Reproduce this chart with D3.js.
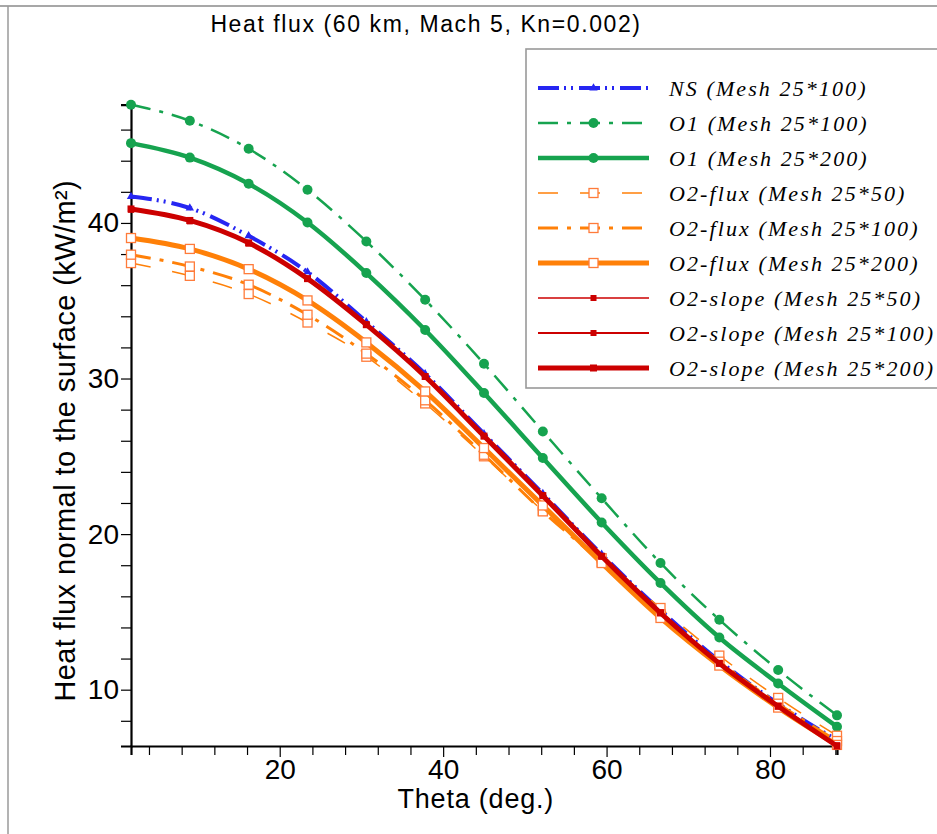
<!DOCTYPE html>
<html>
<head>
<meta charset="utf-8">
<script src="https://cdn.jsdelivr.net/npm/d3@7"></script>
<style>
  body { margin: 0; background: #fff; }
  svg { display: block; }
</style>
</head>
<body>
<div id="chart"></div>
<script>
// Data (marker positions, every 7.2 deg)
const theta = [1.8, 9, 16.2, 23.4, 30.6, 37.8, 45, 52.2, 59.4, 66.6, 73.8, 81, 88.2]

const ns100 = [41.7, 40.96, 39.17, 36.85, 33.65, 30.3, 26.45, 22.6, 18.7, 15.1, 11.85, 9.1, 6.75]
const o1Mesh100 = [47.6, 46.57, 44.77, 42.13, 38.81, 35.06, 30.95, 26.6, 22.3, 18.14, 14.5, 11.27, 8.35]
const o1Mesh200 = [45.13, 44.2, 42.52, 40.03, 36.78, 33.12, 29.07, 24.89, 20.75, 16.86, 13.35, 10.4, 7.62]
const fluxMesh50 = [37.42, 36.6, 35.43, 33.6, 31.4, 28.4, 25.0, 21.5, 18.45, 15.25, 12.19, 9.47, 7.04]
const fluxMesh100 = [37.96, 37.2, 36.03, 34.1, 31.6, 28.6, 25.1, 21.46, 18.2, 14.85, 11.8, 9.1, 6.7]
const fluxMesh200 = [39.03, 38.33, 37.03, 35.02, 32.32, 29.17, 25.53, 21.84, 18.14, 14.61, 11.55, 8.85, 6.45]
const slopeMesh50 = [40.85, 40.1, 38.68, 36.4, 33.45, 30.12, 26.3, 22.48, 18.6, 14.97, 11.72, 8.96, 6.42]
const slopeMesh100 = [40.88, 40.13, 38.7, 36.41, 33.46, 30.13, 26.3, 22.47, 18.58, 14.95, 11.7, 8.94, 6.4]
const slopeMesh200 = [40.9, 40.16, 38.72, 36.42, 33.46, 30.13, 26.3, 22.47, 18.57, 14.93, 11.69, 8.93, 6.38]

const seriesNames = [
    "NS (Mesh 25*100)",
    "O1 (Mesh 25*100)",
    "O1 (Mesh 25*200)",
    "O2-flux (Mesh 25*50)",
    "O2-flux (Mesh 25*100)",
    "O2-flux (Mesh 25*200)",
    "O2-slope (Mesh 25*50)",
    "O2-slope (Mesh 25*100)",
    "O2-slope (Mesh 25*200)",
]
const seriesValues = [ns100, o1Mesh100, o1Mesh200, fluxMesh50, fluxMesh100, fluxMesh200,
    slopeMesh50, slopeMesh100, slopeMesh200]

const xTicks = [20, 40, 60, 80]
const yTicks = [10, 20, 30, 40]

const titleText = "Heat flux (60 km, Mach 5, Kn=0.002)"
const xLabel = "Theta (deg.)"
const yLabel = "Heat flux normal to the surface (kW/m²)"

// styles per series
const blue = "#2626f2", green = "#16a34f", orange = "#ff8008", red = "#cc0000"
const styles = [
    { color: blue, width: 4, dash: "21,5,2,5,2,6", marker: "tri" },
    { color: green, width: 2.5, dash: "20,9,4,9", marker: "circle" },
    { color: green, width: 4.5, dash: null, marker: "circle" },
    { color: orange, width: 1.5, dash: "20,22", marker: "open" },
    { color: orange, width: 3, dash: "20,9,4,9", marker: "open" },
    { color: orange, width: 5, dash: null, marker: "open" },
    { color: red, width: 1.5, dash: null, marker: "square" },
    { color: red, width: 2, dash: null, marker: "square" },
    { color: red, width: 5, dash: null, marker: "square" },
]

const series = seriesNames.map((name, i) => ({
    name,
    style: styles[i],
    points: theta.map((t, j) => ({ t, v: seriesValues[i][j] })),
}))

// 1. dimensions
const dimensions = {
    width: 937,
    height: 834,
    margin: { top: 104.7, right: 100, bottom: 88, left: 131 },
}
dimensions.boundedWidth = dimensions.width - dimensions.margin.left - dimensions.margin.right
dimensions.boundedHeight = dimensions.height - dimensions.margin.top - dimensions.margin.bottom

// 2. canvas
const wrapper = d3.select("#chart")
    .append("svg")
    .attr("width", dimensions.width)
    .attr("height", dimensions.height)

// frame lines of the original figure
wrapper.append("line")
    .attr("x1", 0).attr("x2", dimensions.width)
    .attr("y1", 6).attr("y2", 6)
    .attr("stroke", "#8a8a8a").attr("stroke-width", 1.5)
wrapper.append("line")
    .attr("x1", 8).attr("x2", 8)
    .attr("y1", 6).attr("y2", dimensions.height)
    .attr("stroke", "#9a9a9a").attr("stroke-width", 1.5)

const bounds = wrapper.append("g")
    .attr("transform", `translate(${dimensions.margin.left},${dimensions.margin.top})`)

// 3. scales
const xScale = d3.scaleLinear()
    .domain([1.8, 88.2])
    .range([0, dimensions.boundedWidth])

const yScale = d3.scaleLinear()
    .domain([6.38, 47.6])
    .range([dimensions.boundedHeight, 0])

// 4. axes
const xAxisGenerator = d3.axisBottom(xScale)
    .tickValues(d3.range(4, 89, 4))
    .tickSizeOuter(0)
    .tickSize(9)
    .tickPadding(4)
    .tickFormat(d => xTicks.includes(d) ? d : "")

const xAxis = bounds.append("g")
    .attr("transform", `translate(0,${dimensions.boundedHeight})`)
    .call(xAxisGenerator)
xAxis.selectAll(".tick line").attr("stroke-width", 1.2)
    .attr("y2", d => xTicks.includes(d) ? 11 : 9)

const yAxisGenerator = d3.axisLeft(yScale)
    .tickValues(d3.range(8, 48, 2))
    .tickSizeOuter(0)
    .tickSize(10)
    .tickPadding(2)
    .tickFormat(d => yTicks.includes(d) ? d : "")

const yAxis = bounds.append("g").call(yAxisGenerator)
yAxis.selectAll(".tick line").attr("stroke-width", 1.2)

for (const ax of [xAxis, yAxis]) {
    ax.select(".domain").attr("stroke", "#000").attr("stroke-width", 2.2)
    ax.selectAll("text")
        .attr("fill", "#000")
        .style("font-family", "'Liberation Sans', Arial, sans-serif")
        .style("font-size", "28px")
}
// empty minor labels should not take space
xAxis.selectAll(".tick text").filter(d => !xTicks.includes(d)).remove()
yAxis.selectAll(".tick text").filter(d => !yTicks.includes(d)).remove()

// 5. lines + markers
const lineGenerator = d3.line()
    .x(d => xScale(d.t))
    .y(d => yScale(d.v))
    .curve(d3.curveMonotoneX)

function drawMarker(g, type, color, big) {
    if (type === "circle") {
        g.append("circle").attr("r", 5).attr("fill", color)
    } else if (type === "open") {
        g.append("rect").attr("x", -4.5).attr("y", -4.5).attr("width", 9).attr("height", 9)
            .attr("fill", "#fff").attr("stroke", "#ff7b3a").attr("stroke-width", 1.3)
    } else if (type === "square") {
        const s = big ? 7 : 6
        g.append("rect").attr("x", -s / 2).attr("y", -s / 2).attr("width", s).attr("height", s)
            .attr("fill", color)
    } else if (type === "tri") {
        g.append("path").attr("d", d3.symbol(d3.symbolTriangle, 30)()).attr("fill", color)
    }
}

series.forEach(s => {
    const grp = bounds.append("g")
    grp.append("path")
        .attr("d", lineGenerator(s.points))
        .attr("fill", "none")
        .attr("stroke", s.style.color)
        .attr("stroke-width", s.style.width)
        .attr("stroke-dasharray", s.style.dash)
        .attr("stroke-linejoin", "round")
    s.points.forEach(p => {
        const m = grp.append("g")
            .attr("transform", `translate(${xScale(p.t)},${yScale(p.v)})`)
        drawMarker(m, s.style.marker, s.style.color, s.style.width > 3)
    })
})

// 6. peripherals
wrapper.append("text")
    .attr("x", 426).attr("y", 32)
    .attr("text-anchor", "middle")
    .style("font-family", "'Liberation Sans', Arial, sans-serif")
    .style("font-size", "23px")
    .style("letter-spacing", "1.6px")
    .text(titleText)

wrapper.append("text")
    .attr("x", dimensions.margin.left + xScale(44))
    .attr("y", 808)
    .attr("text-anchor", "middle")
    .style("font-family", "'Liberation Sans', Arial, sans-serif")
    .style("font-size", "27px")
    .style("letter-spacing", "0.8px")
    .text(xLabel)

wrapper.append("text")
    .attr("transform", `translate(75,${dimensions.margin.top + yScale(26)}) rotate(-90)`)
    .attr("text-anchor", "middle")
    .style("font-family", "'Liberation Sans', Arial, sans-serif")
    .style("font-size", "29px")
    .style("letter-spacing", "0.4px")
    .text(yLabel)

// legend
const legend = wrapper.append("g").attr("transform", "translate(526,49)")
legend.append("rect")
    .attr("x", 0).attr("y", 0)
    .attr("width", 430).attr("height", 339)
    .attr("fill", "#fff")
    .attr("stroke", "#999").attr("stroke-width", 1.6)

series.forEach((s, i) => {
    const row = legend.append("g").attr("transform", `translate(0,${39 + i * 35})`)
    row.append("line")
        .attr("x1", 12).attr("x2", 123)
        .attr("stroke", s.style.color)
        .attr("stroke-width", s.style.width)
        .attr("stroke-dasharray", s.style.dash)
    const m = row.append("g").attr("transform", "translate(67.5,0)")
    drawMarker(m, s.style.marker, s.style.color, s.style.width > 3)
    row.append("text")
        .attr("x", 143).attr("y", 0)
        .attr("dy", "0.35em")
        .style("font-family", "'Liberation Serif', 'Times New Roman', serif")
        .style("font-style", "italic")
        .style("font-size", "22px")
        .style("letter-spacing", "2.1px")
        .text(s.name)
})
</script>
</body>
</html>
